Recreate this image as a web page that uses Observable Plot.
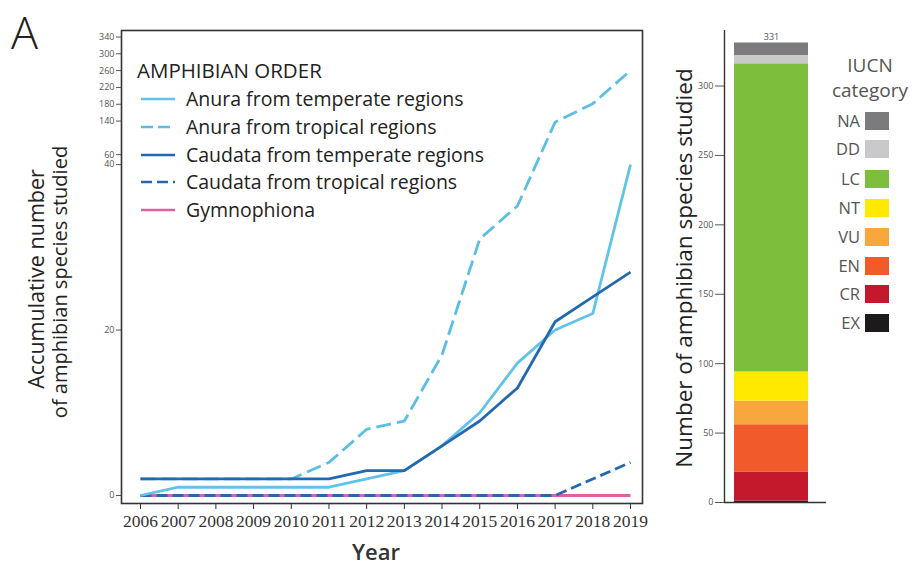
<!DOCTYPE html>
<html><head><meta charset="utf-8">
<script src="https://cdn.jsdelivr.net/npm/d3@7"></script>
<script src="https://cdn.jsdelivr.net/npm/@observablehq/plot@0.6"></script>
<style>
body{margin:0;background:#fff;width:913px;height:566px;overflow:hidden;position:relative;font-family:"Open Sans",sans-serif;color:#222}
.abs{position:absolute;white-space:nowrap;line-height:1}
.rot{transform:translate(-50%,-50%) rotate(-90deg)}
.leg{font-size:19.5px;color:#222}
.iucn{font-size:16.5px;color:#555}
</style></head><body>
<div id="left" class="abs" style="left:0;top:0"></div>
<div id="right" class="abs" style="left:680px;top:0"></div>
<div id="overlay"></div>
<script>
// ---- Data: left panel ----
const years = [2006,2007,2008,2009,2010,2011,2012,2013,2014,2015,2016,2017,2018,2019];
const anuraTemperate   = [0,1,1,1,1,1,2,3,6,10,16,20,22,40];
const anuraTropical    = [2,2,2,2,2,4,8,9,17,31,35,141,185,264];
const caudataTemperate = [2,2,2,2,2,2,3,3,6,9,13,21,24,27];
const caudataTropical  = [0,0,0,0,0,0,0,0,0,0,0,0,2,4];
const gymnophiona      = [0,0,0,0,0,0,0,0,0,0,0,0,0,0];
const seriesNames = ["Anura from temperate regions","Anura from tropical regions","Caudata from temperate regions","Caudata from tropical regions","Gymnophiona"];
const yTicksLow  = [0,20,40];
const yTicksHigh = [60,140,180,220,260,300,340];

// ---- Data: right panel (bottom to top) ----
const iucnCats   = ["EX","CR","EN","VU","NT","LC","DD","NA"];
const iucnCounts = [1,21,34,17,21,222,6,9];
const iucnColors = ["#1c1a1b","#c4182d","#f15a29","#f9a73c","#ffe900","#7dbe3c","#c9c9cb","#7b7a7c"];
const barTicks = [0,50,100,150,200,250,300];

// broken axis: linear up to 40, compressed above 40
const BREAK = 40, SQUEEZE = 0.0508;
const brk = v => v <= BREAK ? v : BREAK + (v - BREAK) * SQUEEZE;
const unbrk = t => t <= BREAK ? t : BREAK + (t - BREAK) / SQUEEZE;

const styles = [
  {stroke:"#62c3e9", dash:null},
  {stroke:"#5bbee2", dash:"15,6"},
  {stroke:"#2369af", dash:null},
  {stroke:"#2369af", dash:"11,5"},
  {stroke:"#e35fa0", dash:null}
];
const allSeries = [anuraTemperate, anuraTropical, caudataTemperate, caudataTropical, gymnophiona];
const tidy = allSeries.map((vals, i) => years.map((y, j) => ({year: y, value: vals[j], series: seriesNames[i]})));
const drawOrder = [4,1,3,0,2];

const left = Plot.plot({
  width: 660, height: 566,
  marginTop: 30, marginBottom: 63, marginLeft: 121, marginRight: 18,
  style: {fontFamily: "Open Sans", background: "transparent"},
  x: {domain: [2006, 2019], insetLeft: 19, insetRight: 12},
  y: {domain: [0, brk(340)], range: [495, 38]},
  marks: [
    ...drawOrder.map(i => Plot.line(tidy[i], {x: "year", y: d => brk(d.value), stroke: styles[i].stroke, strokeWidth: 2.8, strokeDasharray: styles[i].dash, strokeLinejoin: "round", strokeLinecap: "butt"})),
    Plot.frame({stroke: "#333", strokeWidth: 1.6}),
    Plot.axisX({ticks: years, tickFormat: d => String(d), tickSize: 6, tickPadding: 5, fontSize: 17.5, fontFamily: "Liberation Sans Narrow", color: "#333", label: null}),
    Plot.axisY({ticks: yTicksLow.map(brk), tickFormat: t => String(Math.round(unbrk(t))), tickSize: 5, tickPadding: 2, fontSize: 9, color: "#555", label: null}),
    Plot.axisY({ticks: yTicksHigh.map(brk), tickFormat: t => String(Math.round(unbrk(t))), tickSize: 5, tickPadding: 2, fontSize: 9, color: "#555", label: null, dy: -1.5})
  ]
});
document.getElementById("left").appendChild(left);

const barData = iucnCats.map((c, i) => ({k: "all", cat: c, n: iucnCounts[i]}));
const total = d3.sum(iucnCounts);
const right = Plot.plot({
  width: 180, height: 566,
  marginTop: 30, marginBottom: 64, marginLeft: 44, marginRight: 34,
  style: {fontFamily: "Open Sans", background: "transparent"},
  x: {domain: ["all"], padding: 0, axis: null},
  y: {domain: [0, 340], range: [502, 30]},
  color: {domain: iucnCats, range: iucnColors},
  marks: [
    Plot.barY(barData, {x: "k", y: "n", fill: "cat", insetLeft: 10, insetRight: 18}),
    Plot.ruleY([0], {stroke: "#333", strokeWidth: 1.4}),
    Plot.ruleX(["all"], {y1: 0, y2: 340, dx: -51, stroke: "#333", strokeWidth: 1.4}),
    Plot.text([total], {x: () => "all", y: d => d, text: d => String(d), dy: -6, dx: -4, fontSize: 9, fill: "#555"}),
    Plot.axisY({ticks: barTicks, tickSize: 9, tickPadding: 2, fontSize: 9, color: "#555", label: null})
  ]
});
document.getElementById("right").appendChild(right);

// ---- Text & legends ----
const ov = document.getElementById("overlay");
function add(html, style, cls="abs") {
  const d = document.createElement("div");
  d.className = cls; d.style.cssText = style; d.innerHTML = html; ov.appendChild(d); return d;
}
add("A", "left:11px;top:8px;font-size:45px;font-weight:300;color:#222;line-height:1.05");
add("Accumulative number", "left:36px;top:279px;font-size:21.5px;color:#222", "abs rot");
add("of amphibian species studied", "left:60px;top:282px;font-size:20px;color:#222", "abs rot");
add("Year", "left:376px;top:551px;transform:translate(-50%,-50%);font-size:22px;font-weight:600;color:#333");
add("Number of amphibian species studied", "left:684px;top:268px;font-size:22.5px;color:#222", "abs rot");

// left legend
add("AMPHIBIAN ORDER", "left:137px;top:70px;transform:translateY(-50%);font-size:20.5px;color:#222");
const legY = [99,127,155,182,210];
seriesNames.forEach((name, i) => {
  const s = styles[i];
  add(`<svg width="36" height="6"><line x1="0" y1="3" x2="34" y2="3" stroke="${s.stroke}" stroke-width="2.7" ${s.dash ? `stroke-dasharray="${i===1?'12,5':'11,5'}"` : ""}/></svg>`,
      `left:141px;top:${legY[i]-3}px;line-height:0`);
  add(name, `left:186px;top:${legY[i]}px;transform:translateY(-50%)`, "abs leg");
});

// IUCN legend
add("IUCN", "left:870px;top:65px;transform:translate(-50%,-50%);font-size:19px;color:#555");
add("category", "left:870px;top:90px;transform:translate(-50%,-50%);font-size:19px;color:#555");
const iucnLegY = {NA:121,DD:149,LC:179,NT:208,VU:237,EN:266,CR:294,EX:323};
["NA","DD","LC","NT","VU","EN","CR","EX"].forEach(c => {
  const col = iucnColors[iucnCats.indexOf(c)];
  add(c, `right:${913-860}px;top:${iucnLegY[c]}px;transform:translateY(-50%)`, "abs iucn");
  add("", `left:865px;top:${iucnLegY[c]-9}px;width:24px;height:18px;background:${col}`);
});
</script>
</body></html>
